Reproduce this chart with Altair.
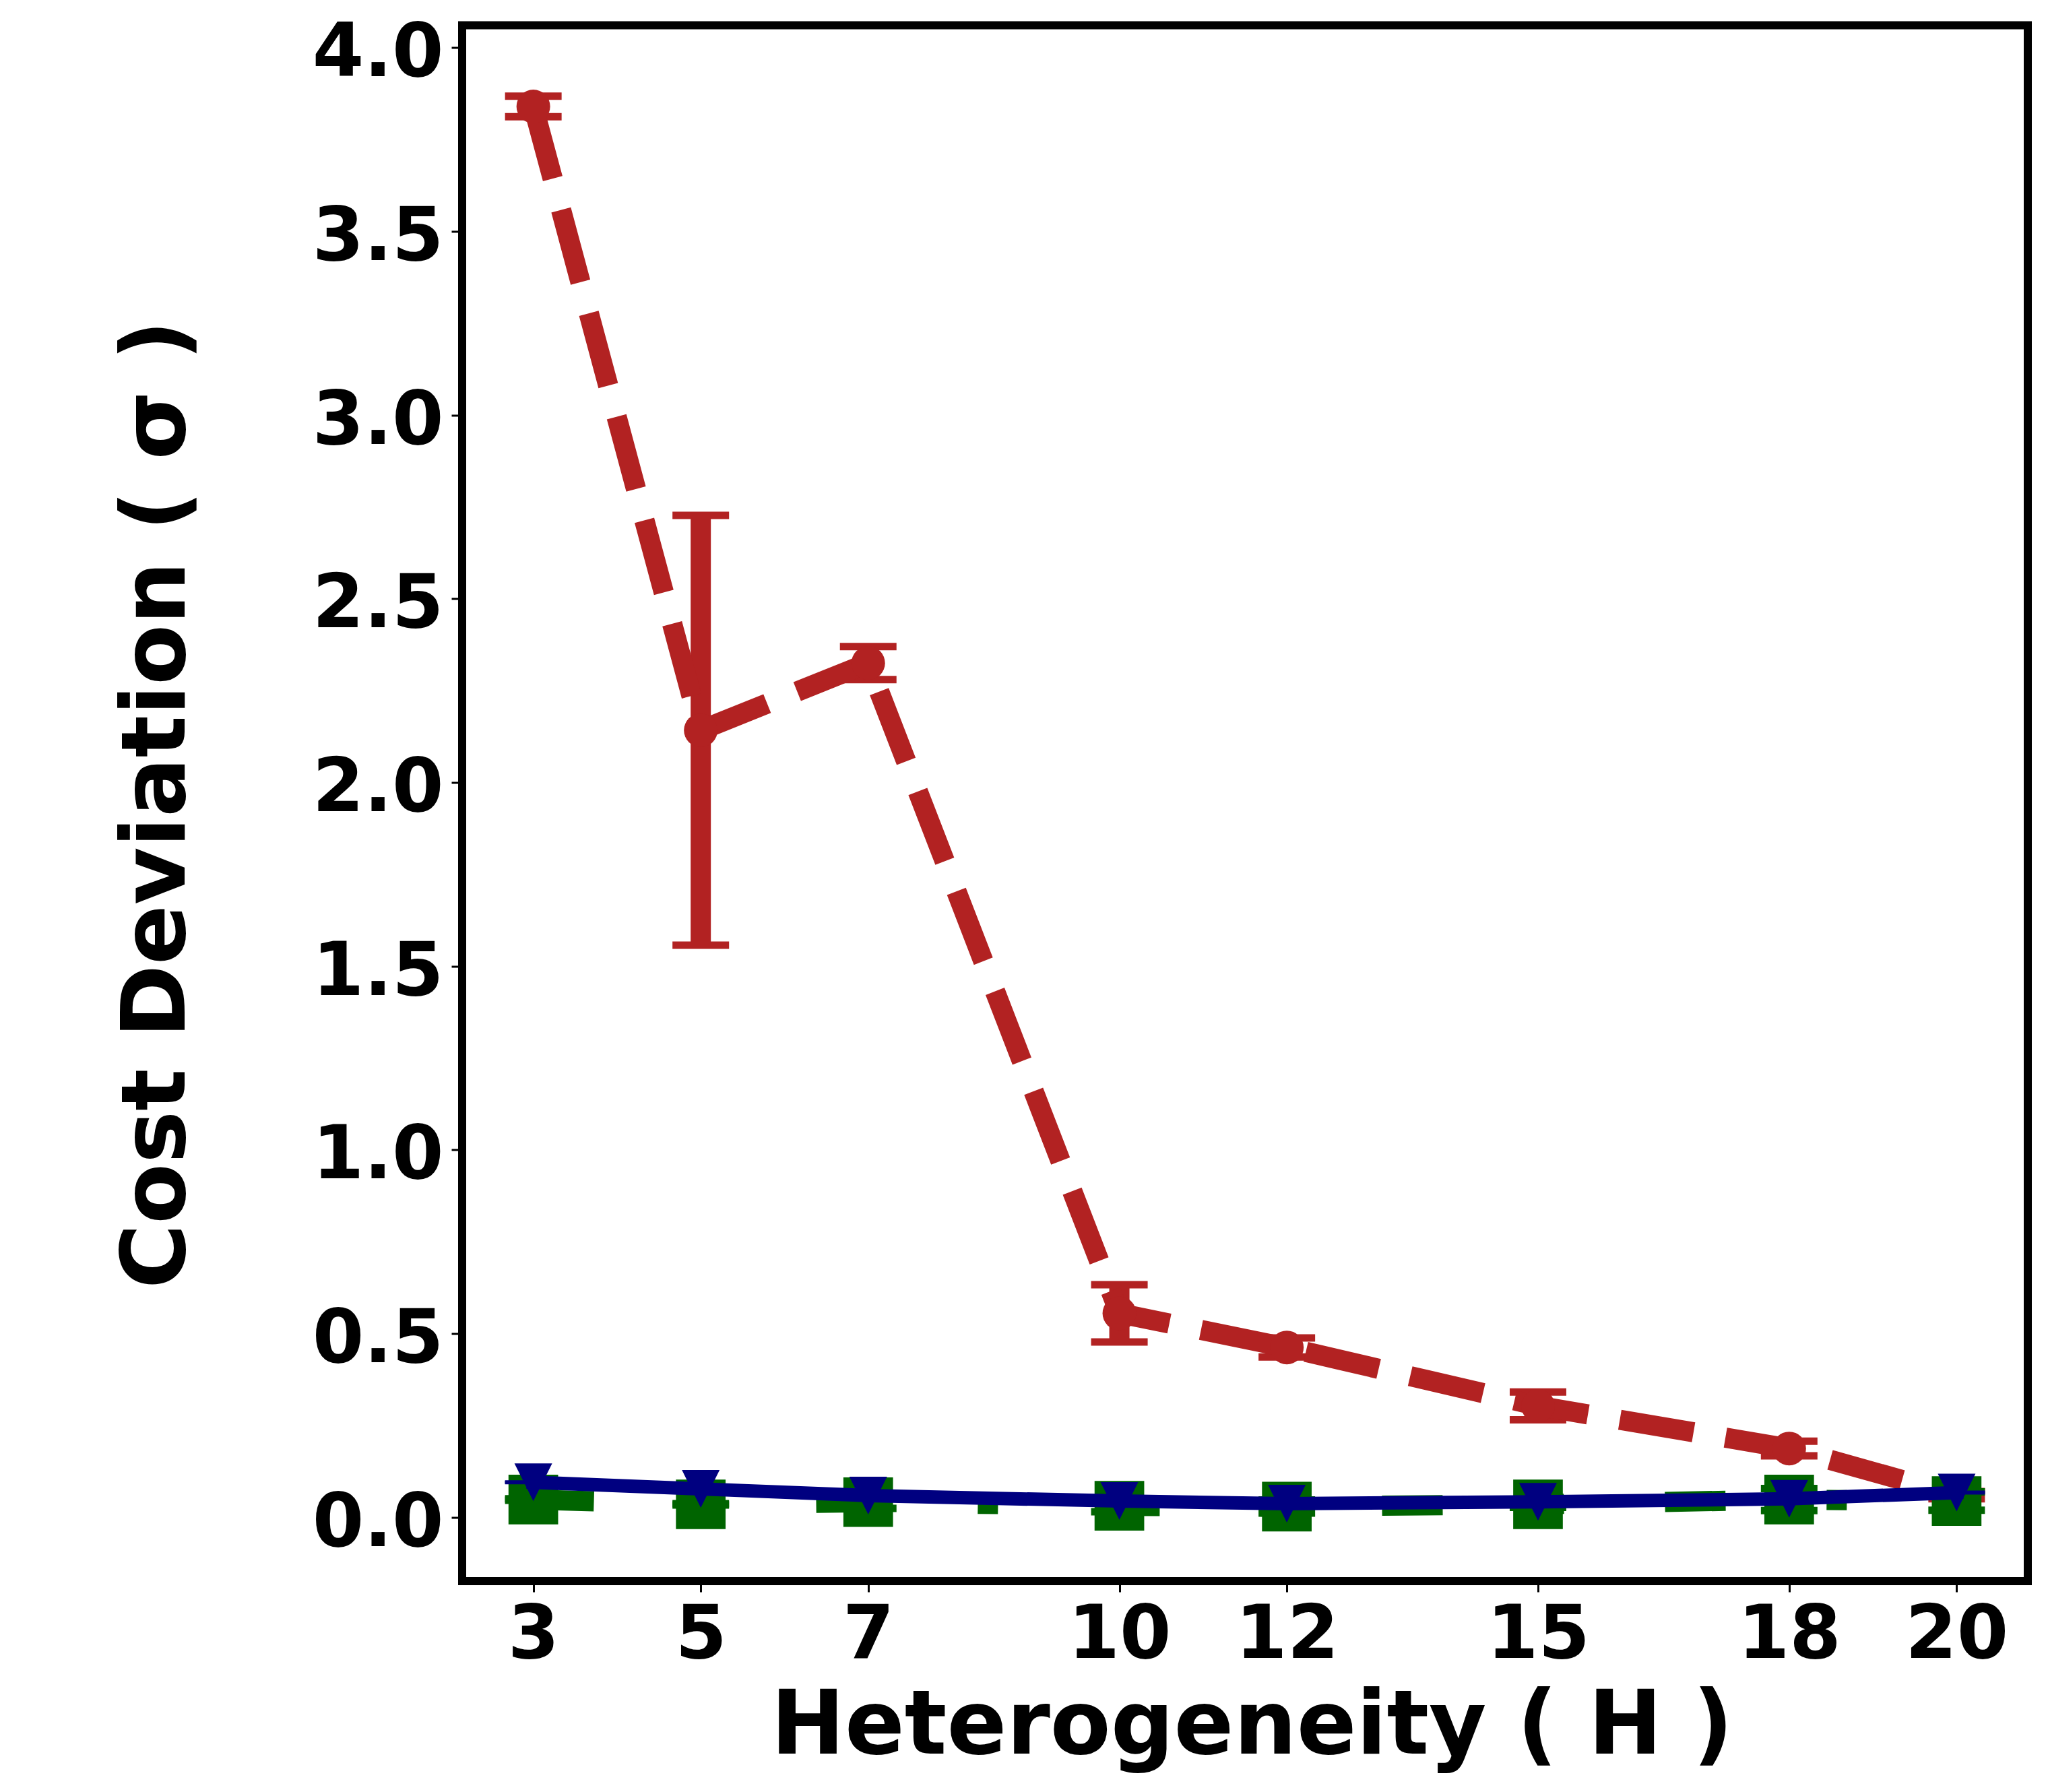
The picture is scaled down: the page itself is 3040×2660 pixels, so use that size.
import altair as alt
import pandas as pd

# ---- data ----
H = [3, 5, 7, 10, 12, 15, 18, 20]

red_mean = [3.840, 2.142, 2.325, 0.555, 0.462, 0.303, 0.187, 0.060]
red_err = [0.028, 0.585, 0.045, 0.078, 0.026, 0.038, 0.020, 0.010]

green_mean = [0.048, 0.035, 0.041, 0.031, 0.029, 0.035, 0.048, 0.044]
green_err = [0.002, 0.002, 0.017, 0.016, 0.018, 0.008, 0.030, 0.025]

blue_mean = [0.095, 0.077, 0.059, 0.044, 0.037, 0.042, 0.050, 0.067]
blue_err = [0.001, 0.001, 0.001, 0.001, 0.001, 0.001, 0.001, 0.001]

x_ticks = [3, 5, 7, 10, 12, 15, 18, 20]
y_ticks = [0.0, 0.5, 1.0, 1.5, 2.0, 2.5, 3.0, 3.5, 4.0]

x_title = "Heterogeneity ( H )"
y_title = "Cost Deviation ( σ )"

RED = "#b22222"
GREEN = "#006400"
BLUE = "#000080"

rows = []
for i, h in enumerate(H):
    rows.append({
        "H": h,
        "red": red_mean[i], "red_lo": red_mean[i] - red_err[i], "red_hi": red_mean[i] + red_err[i],
        "green": green_mean[i], "green_lo": green_mean[i] - green_err[i], "green_hi": green_mean[i] + green_err[i],
        "blue": blue_mean[i], "blue_lo": blue_mean[i] - blue_err[i], "blue_hi": blue_mean[i] + blue_err[i],
    })
df = pd.DataFrame(rows)

FONT = "DejaVu Sans"

xscale = alt.Scale(domain=[2.15, 20.85], nice=False, zero=False)
yscale = alt.Scale(domain=[-0.174, 4.061], nice=False, zero=False)

xaxis = alt.Axis(
    values=x_ticks, format="d", title=x_title,
    titleFont=FONT, titleFontSize=131, titleFontWeight="bold", titleColor="black",
    titleBaseline="alphabetic", titleX=1172, titleY=255, titleLimit=0,
    labelFont=FONT, labelFontSize=110, labelFontWeight="bold", labelColor="black",
    labelBaseline="alphabetic", labelPadding=97, labelFlush=False, labelOverlap=False,
    labelLimit=0,
    tickSize=16, tickWidth=3, tickColor="black", domain=False, grid=False,
)
yaxis = alt.Axis(
    values=y_ticks, format=".1f", title=y_title,
    titleFont=FONT, titleFontSize=131, titleFontWeight="bold", titleColor="black",
    titleBaseline="alphabetic", titleAngle=270, titleAlign="center", titleX=-413, titleY=1156,
    titleLimit=0,
    labelFont=FONT, labelFontSize=110, labelFontWeight="bold", labelColor="black",
    labelBaseline="alphabetic", labelAlign="right", labelOffset=42, labelPadding=12,
    labelFlush=False, labelOverlap=False, labelLimit=0,
    tickSize=16, tickWidth=3, tickColor="black", domain=False, grid=False,
)

base = alt.Chart(df)
X = alt.X("H:Q", scale=xscale, axis=xaxis)

TRI = "M-1,-1L1,-1L0,1Z"


def series(field, color, line_width, dash, shape, size, bar_width, cap_thick):
    Y = alt.Y(f"{field}:Q", scale=yscale, axis=yaxis)
    Ylo = alt.Y(f"{field}_lo:Q", scale=yscale, axis=yaxis)
    Yhi = alt.Y(f"{field}_hi:Q", scale=yscale, axis=yaxis)
    rule = base.mark_rule(color=color, strokeWidth=bar_width).encode(
        x=X, y=Ylo, y2=alt.Y2(f"{field}_hi:Q"))
    cap_lo = base.mark_tick(color=color, orient="horizontal", size=84,
                            thickness=cap_thick, opacity=1).encode(x=X, y=Ylo)
    cap_hi = base.mark_tick(color=color, orient="horizontal", size=84,
                            thickness=cap_thick, opacity=1).encode(x=X, y=Yhi)
    line_kw = dict(color=color, strokeWidth=line_width, strokeJoin="round")
    if dash:
        line_kw["strokeDash"] = dash
        line_kw["strokeCap"] = "butt"
    else:
        line_kw["strokeCap"] = "square"
    line = base.mark_line(**line_kw).encode(x=X, y=Y)
    pts = base.mark_point(filled=True, shape=shape, size=size, color=color,
                          opacity=1, strokeWidth=0).encode(x=X, y=Y)
    return [rule, cap_lo, cap_hi, line, pts]


layers = []
layers += series("red", RED, 30, [111, 48], "circle", 2500, 30, 11)
layers += series("green", GREEN, 30, [90, 150, 30, 150], "square", 5430, 30, 11)
layers += series("blue", BLUE, 20, None, TRI, 3136, 20, 5)

chart = alt.layer(*layers).properties(
    width=2324,
    height=2309.5,
    autosize=alt.AutoSizeParams(type="none"),
    padding={"left": 678, "top": 29.5, "right": 20, "bottom": 290},
).configure(
    background="white",
    view=alt.ViewConfig(stroke="black", strokeWidth=12, fill="white"),
)

chart.save("out.html", embed_options={"renderer": "svg", "actions": False})
